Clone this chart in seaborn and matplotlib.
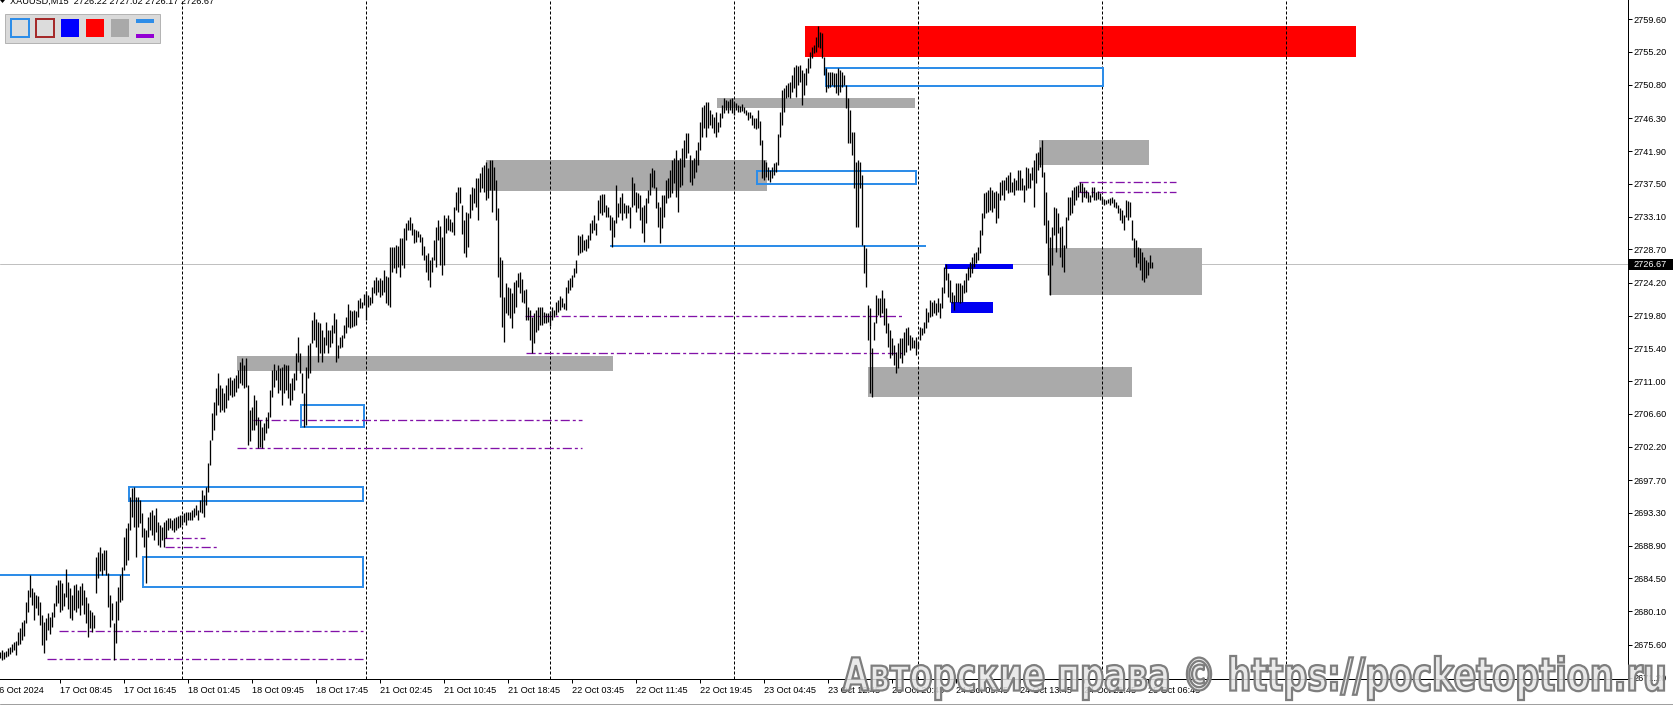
import numpy as np
import matplotlib
matplotlib.use("Agg")
import matplotlib.pyplot as plt
import seaborn as sns
from matplotlib.patches import Rectangle, PathPatch, Polygon
from matplotlib.textpath import TextPath
from matplotlib.font_manager import FontProperties
from matplotlib.transforms import Affine2D

sns.set_theme(style="white")
plt.rcParams["font.family"] = ["Liberation Sans", "DejaVu Sans"]

# ---------------------------------------------------------------- data
symbol = "XAUUSD,M15"
last_ohlc = [2726.22, 2727.02, 2726.17, 2726.67]
last_price = 2726.67

# M15 bars, bar index 0 = 17 Oct 01:00 (23 trading hours = 92 bars per day)
bar_start = 1
bar_high = [
    2674.6, 2674.9, 2674.6, 2674.8, 2675.2, 2675.3, 2675.7, 2676.0, 2676.1, 2677.3,
    2677.9, 2678.7, 2678.9, 2681.3, 2683.0, 2685.0, 2683.2, 2682.7, 2682.3, 2682.1,
    2681.3, 2679.6, 2678.7, 2679.2, 2679.9, 2679.3, 2680.0, 2681.2, 2683.6, 2684.3,
    2684.3, 2683.9, 2682.6, 2685.8, 2684.0, 2683.2, 2682.3, 2683.6, 2683.8, 2683.0,
    2683.5, 2683.9, 2683.0, 2682.0, 2681.2, 2680.3, 2680.0, 2679.6, 2687.4, 2688.1,
    2688.7, 2687.9, 2688.3, 2688.3, 2685.2, 2682.3, 2681.2, 2678.5, 2681.5, 2683.4,
    2685.0, 2686.0, 2690.1, 2691.3, 2692.0, 2695.4, 2696.7, 2696.8, 2695.4, 2695.4,
    2695.0, 2693.3, 2691.3, 2691.0, 2692.8, 2693.4, 2693.7, 2693.0, 2694.0, 2692.1,
    2691.7, 2691.4, 2692.1, 2692.4, 2692.6, 2692.6, 2692.4, 2692.6, 2692.8, 2692.9,
    2693.0, 2693.0, 2693.3, 2693.4, 2693.4, 2693.4, 2693.7, 2694.0, 2694.4, 2693.7,
    2695.0, 2696.4, 2695.7, 2696.8, 2700.0, 2703.1, 2706.7, 2708.2, 2710.1, 2712.1,
    2710.5, 2710.1, 2709.4, 2710.5, 2711.4, 2711.6, 2711.2, 2711.4, 2711.8, 2712.5,
    2713.6, 2714.1, 2713.2, 2714.1, 2710.5, 2707.1, 2707.5, 2709.1, 2708.5, 2706.2,
    2705.8, 2704.8, 2705.4, 2706.2, 2706.9, 2709.8, 2712.5, 2713.3, 2712.5, 2713.2,
    2712.8, 2712.9, 2713.3, 2713.2, 2713.2, 2710.8, 2711.4, 2712.1, 2714.8, 2716.9,
    2714.8, 2712.1, 2709.4, 2712.9, 2715.9, 2716.1, 2719.2, 2720.3, 2719.3, 2718.9,
    2718.8, 2717.9, 2716.9, 2718.9, 2717.9, 2717.9, 2718.5, 2720.2, 2719.3, 2715.9,
    2716.9, 2717.2, 2718.5, 2719.6, 2721.4, 2720.6, 2720.4, 2720.6, 2720.4, 2721.9,
    2722.2, 2721.6, 2722.7, 2723.1, 2722.6, 2722.3, 2723.6, 2724.6, 2725.0, 2724.6,
    2724.8, 2724.6, 2725.9, 2725.1, 2725.0, 2729.0, 2729.0, 2729.0, 2729.3, 2729.1,
    2730.2, 2730.2, 2731.6, 2732.2, 2732.6, 2733.0, 2732.2, 2731.4, 2731.3, 2731.2,
    2730.8, 2730.4, 2729.1, 2727.9, 2728.2, 2727.3, 2727.7, 2729.9, 2731.7, 2732.6,
    2731.8, 2730.4, 2733.3, 2732.9, 2733.3, 2732.8, 2732.4, 2734.4, 2736.4, 2737.1,
    2737.1, 2734.6, 2732.6, 2733.7, 2733.6, 2736.1, 2737.1, 2736.9, 2738.3, 2738.3,
    2738.9, 2739.8, 2740.0, 2740.4, 2739.6, 2740.7, 2740.7, 2739.8, 2738.0, 2734.2,
    2727.7, 2727.3, 2722.3, 2724.2, 2723.6, 2723.5, 2722.8, 2724.3, 2724.6, 2725.5,
    2725.7, 2724.7, 2723.2, 2723.4, 2721.0, 2720.6, 2719.6, 2720.2, 2720.6, 2721.0,
    2721.0, 2721.0, 2720.3, 2720.2, 2720.2, 2720.4, 2721.0, 2720.6, 2721.6, 2721.9,
    2722.4, 2722.2, 2721.5, 2723.6, 2724.6, 2724.8, 2725.2, 2726.2, 2727.3, 2730.6,
    2730.5, 2730.8, 2729.9, 2730.1, 2730.6, 2732.2, 2732.6, 2733.3, 2732.2, 2735.3,
    2736.0, 2736.1, 2736.1, 2734.6, 2734.4, 2733.3, 2733.0, 2732.6, 2737.3, 2734.9,
    2735.7, 2736.3, 2734.9, 2734.6, 2734.6, 2734.4, 2738.4, 2737.6, 2736.4, 2736.3,
    2736.0, 2734.4, 2734.6, 2735.6, 2736.7, 2738.9, 2739.6, 2739.4, 2737.1, 2735.1,
    2734.4, 2736.0, 2736.0, 2738.0, 2738.3, 2739.4, 2740.7, 2741.0, 2742.0, 2740.7,
    2741.0, 2742.3, 2743.4, 2744.3, 2744.3, 2741.4, 2740.7, 2741.0, 2742.0, 2743.1,
    2745.8, 2747.8, 2748.1, 2748.5, 2748.5, 2747.4, 2746.9, 2746.5, 2747.1, 2745.8,
    2747.0, 2748.1, 2749.0, 2748.8, 2748.6, 2748.9, 2749.0, 2748.5, 2748.3, 2748.1,
    2747.9, 2748.2, 2747.8, 2747.4, 2747.1, 2747.1, 2746.7, 2746.3, 2746.3, 2747.4,
    2745.9, 2743.4, 2740.7, 2740.4, 2739.8, 2739.4, 2739.8, 2740.3, 2740.4, 2744.2,
    2747.1, 2750.1, 2750.4, 2750.8, 2751.0, 2751.2, 2752.1, 2753.2, 2753.5, 2753.3,
    2753.5, 2752.8, 2752.4, 2753.0, 2754.4, 2755.2, 2755.9, 2756.1, 2757.2, 2758.7,
    2757.9, 2757.7, 2754.5, 2753.0, 2752.5, 2752.5, 2752.5, 2752.4, 2752.4, 2753.0,
    2752.8, 2752.5, 2752.1, 2750.8, 2749.0, 2747.4, 2744.5, 2744.5, 2740.4, 2740.7,
    2740.4, 2738.7, 2729.3, 2728.9, 2721.2, 2720.8, 2715.5, 2718.9, 2722.6, 2722.2,
    2722.2, 2723.2, 2722.2, 2720.8, 2718.8, 2717.9, 2716.8, 2715.9, 2714.9, 2716.1,
    2716.8, 2716.8, 2717.6, 2718.1, 2718.3, 2717.2, 2716.9, 2716.5, 2716.9, 2716.3,
    2718.3, 2718.1, 2718.9, 2720.8, 2720.3, 2721.9, 2721.6, 2721.9, 2721.5, 2722.2,
    2721.5, 2723.6, 2726.3, 2726.7, 2725.5, 2724.6, 2723.0, 2722.6, 2724.2, 2724.2,
    2724.2, 2723.9, 2724.6, 2725.5, 2726.3, 2727.0, 2727.7, 2728.2, 2728.3, 2729.0,
    2731.3, 2733.6, 2736.3, 2736.4, 2736.7, 2737.1, 2736.7, 2736.4, 2736.5, 2736.3,
    2737.7, 2738.0, 2738.0, 2738.4, 2738.7, 2739.1, 2737.7, 2738.3, 2738.0, 2739.4,
    2739.4, 2738.3, 2737.3, 2739.8, 2739.6, 2738.9, 2739.8, 2740.7, 2741.6, 2741.8,
    2742.4, 2743.4, 2739.1, 2736.4, 2732.6, 2730.4, 2731.7, 2734.4, 2734.2, 2733.6,
    2731.7, 2731.8, 2729.3, 2733.0, 2735.7, 2735.7, 2736.7, 2737.1, 2737.2, 2737.3,
    2737.7, 2737.6, 2737.1, 2736.7, 2736.4, 2736.0, 2737.1, 2737.1, 2736.4, 2736.5,
    2736.3, 2735.7, 2735.5, 2735.3, 2735.5, 2735.6, 2735.7, 2735.5, 2735.1, 2734.6,
    2734.2, 2734.0, 2733.3, 2735.3, 2735.2, 2735.1, 2732.6, 2730.2, 2729.9, 2729.0,
    2728.9, 2728.3, 2727.7, 2727.3, 2727.0, 2727.9, 2727.02,
]
bar_low = [
    2673.8, 2673.5, 2673.7, 2674.0, 2674.1, 2674.4, 2674.6, 2674.9, 2674.2, 2675.6,
    2675.7, 2676.2, 2676.8, 2678.5, 2680.0, 2682.0, 2680.9, 2678.9, 2680.5, 2679.6,
    2678.3, 2675.6, 2674.5, 2676.2, 2677.6, 2677.0, 2678.0, 2679.3, 2680.8, 2681.2,
    2680.0, 2680.3, 2680.8, 2682.0, 2680.4, 2679.2, 2678.9, 2680.3, 2680.0, 2680.5,
    2679.6, 2680.9, 2679.7, 2678.5, 2676.6, 2677.9, 2677.3, 2677.9, 2682.6, 2684.6,
    2685.5, 2685.0, 2685.6, 2685.0, 2680.7, 2678.0, 2678.9, 2673.5, 2675.8, 2678.9,
    2681.3, 2681.6, 2685.6, 2686.3, 2687.0, 2691.0, 2692.8, 2691.4, 2687.4, 2691.4,
    2692.0, 2690.1, 2688.7, 2683.9, 2690.1, 2691.0, 2690.3, 2689.7, 2690.7, 2689.0,
    2688.7, 2689.7, 2688.7, 2689.9, 2691.0, 2691.3, 2691.0, 2690.7, 2691.0, 2691.3,
    2691.4, 2691.7, 2692.1, 2691.7, 2692.4, 2692.4, 2692.4, 2692.8, 2693.0, 2692.4,
    2693.4, 2693.3, 2692.8, 2694.4, 2696.1, 2699.7, 2703.1, 2704.4, 2706.5, 2707.8,
    2706.9, 2707.1, 2706.9, 2707.4, 2708.5, 2709.1, 2708.9, 2709.0, 2709.5, 2710.1,
    2710.8, 2710.5, 2710.1, 2710.2, 2702.4, 2703.0, 2704.4, 2704.4, 2705.1, 2702.0,
    2702.2, 2702.0, 2703.1, 2704.0, 2704.7, 2706.2, 2708.9, 2710.2, 2711.2, 2709.4,
    2709.8, 2707.8, 2709.4, 2709.8, 2708.7, 2707.8, 2708.5, 2709.8, 2711.2, 2713.6,
    2712.1, 2709.4, 2704.8, 2705.1, 2711.4, 2712.1, 2716.1, 2716.5, 2715.6, 2713.6,
    2714.8, 2713.6, 2714.8, 2715.9, 2714.8, 2715.6, 2716.1, 2717.5, 2713.6, 2714.1,
    2715.5, 2715.6, 2716.8, 2717.5, 2718.3, 2718.1, 2718.3, 2718.4, 2718.5, 2719.6,
    2720.8, 2720.8, 2721.2, 2719.2, 2721.0, 2721.2, 2721.5, 2722.8, 2722.6, 2723.0,
    2722.3, 2722.6, 2723.0, 2721.5, 2721.2, 2721.0, 2725.7, 2726.2, 2725.5, 2726.3,
    2725.0, 2726.6, 2726.2, 2729.9, 2731.3, 2731.3, 2730.6, 2729.5, 2729.7, 2730.4,
    2729.7, 2727.9, 2727.3, 2725.7, 2724.6, 2723.6, 2725.7, 2727.3, 2726.3, 2729.9,
    2726.6, 2725.2, 2726.6, 2730.9, 2731.3, 2731.2, 2731.0, 2730.6, 2734.0, 2733.7,
    2734.9, 2730.8, 2728.2, 2727.7, 2729.0, 2732.9, 2734.0, 2734.9, 2734.4, 2732.6,
    2736.4, 2736.9, 2736.4, 2735.3, 2735.6, 2736.7, 2733.7, 2736.7, 2732.6, 2725.0,
    2722.3, 2718.3, 2716.3, 2720.2, 2719.9, 2719.5, 2718.1, 2720.2, 2721.0, 2723.6,
    2722.8, 2721.6, 2721.5, 2719.2, 2719.2, 2716.5, 2714.8, 2716.1, 2717.6, 2717.9,
    2718.5, 2718.5, 2718.8, 2718.8, 2718.9, 2718.4, 2719.2, 2719.6, 2719.9, 2720.3,
    2720.6, 2721.0, 2720.7, 2720.6, 2722.8, 2723.2, 2723.6, 2725.0, 2725.5, 2727.9,
    2728.2, 2728.3, 2728.6, 2728.5, 2728.9, 2729.9, 2730.9, 2731.3, 2730.6, 2732.6,
    2733.6, 2733.3, 2733.7, 2733.0, 2733.0, 2731.3, 2729.0, 2730.4, 2732.2, 2733.0,
    2733.6, 2732.6, 2733.6, 2732.9, 2733.6, 2731.6, 2734.4, 2734.6, 2733.7, 2734.2,
    2732.6, 2730.9, 2729.7, 2732.2, 2734.9, 2736.0, 2737.1, 2736.9, 2734.2, 2731.7,
    2729.5, 2731.6, 2733.0, 2734.9, 2735.6, 2735.7, 2736.3, 2737.6, 2735.7, 2733.7,
    2737.1, 2737.3, 2739.8, 2741.0, 2741.6, 2737.7, 2737.3, 2738.3, 2739.1, 2740.0,
    2742.0, 2743.8, 2745.0, 2743.8, 2745.0, 2745.4, 2745.0, 2744.3, 2743.8, 2744.5,
    2745.1, 2746.3, 2747.0, 2747.4, 2747.0, 2747.4, 2747.0, 2746.7, 2747.4, 2747.1,
    2747.1, 2747.3, 2747.0, 2746.7, 2746.1, 2746.3, 2745.4, 2745.0, 2744.9, 2745.0,
    2742.7, 2738.3, 2738.0, 2738.4, 2738.0, 2737.7, 2738.3, 2738.7, 2739.1, 2740.0,
    2743.8, 2745.4, 2747.1, 2749.0, 2749.2, 2749.0, 2749.8, 2750.4, 2749.2, 2750.8,
    2751.2, 2748.1, 2749.4, 2750.8, 2752.4, 2753.0, 2754.4, 2755.1, 2755.2, 2755.9,
    2755.7, 2754.4, 2752.1, 2749.8, 2750.4, 2750.5, 2750.8, 2750.5, 2749.7, 2749.4,
    2749.8, 2750.5, 2750.8, 2747.7, 2743.0, 2743.0, 2741.4, 2736.9, 2731.7, 2731.7,
    2736.9, 2729.3, 2725.5, 2723.6, 2716.5, 2709.4, 2708.9, 2716.5, 2718.8, 2719.9,
    2719.6, 2720.2, 2718.5, 2717.5, 2715.6, 2714.1, 2714.5, 2713.2, 2712.1, 2712.8,
    2714.1, 2713.4, 2714.5, 2714.9, 2715.9, 2715.2, 2715.5, 2715.5, 2714.5, 2715.5,
    2716.5, 2717.2, 2717.5, 2718.1, 2718.9, 2719.6, 2719.7, 2720.2, 2719.9, 2720.3,
    2719.5, 2720.8, 2722.8, 2724.6, 2722.3, 2721.6, 2721.5, 2720.6, 2721.6, 2721.6,
    2721.5, 2721.6, 2722.8, 2723.0, 2724.6, 2725.0, 2725.5, 2726.3, 2726.9, 2727.3,
    2728.2, 2730.6, 2732.9, 2733.6, 2733.7, 2734.0, 2733.7, 2734.2, 2732.2, 2732.9,
    2735.3, 2736.0, 2735.3, 2736.7, 2736.3, 2736.4, 2736.4, 2736.0, 2736.7, 2736.7,
    2736.7, 2736.7, 2735.1, 2736.7, 2736.9, 2736.9, 2738.0, 2734.4, 2737.6, 2739.4,
    2739.8, 2738.4, 2732.0, 2729.5, 2725.2, 2722.6, 2726.6, 2730.6, 2728.3, 2730.9,
    2727.7, 2726.3, 2725.7, 2728.9, 2732.6, 2733.3, 2733.6, 2734.6, 2735.3, 2735.7,
    2736.4, 2735.1, 2735.7, 2735.6, 2735.1, 2735.1, 2735.7, 2735.3, 2735.3, 2735.5,
    2735.3, 2734.8, 2734.6, 2734.8, 2734.9, 2734.6, 2734.9, 2734.4, 2734.2, 2733.6,
    2732.6, 2732.2, 2731.3, 2733.0, 2732.6, 2733.0, 2729.9, 2727.7, 2726.3, 2726.9,
    2725.9, 2724.6, 2724.3, 2724.9, 2725.2, 2726.2, 2726.17,
]
assert len(bar_high) == len(bar_low)

# first bar index of each trading day (period separators)
day_start_bars = [92, 184, 276, 368, 460, 552, 644]

time_label_bars = [31, 63, 95, 127, 159, 191, 223, 255, 287, 319, 351, 383,
                   415, 447, 479, 511, 543, 575]
time_labels = ["17 Oct 08:45", "17 Oct 16:45", "18 Oct 01:45", "18 Oct 09:45",
               "18 Oct 17:45", "21 Oct 02:45", "21 Oct 10:45", "21 Oct 18:45",
               "22 Oct 03:45", "22 Oct 11:45", "22 Oct 19:45", "23 Oct 04:45",
               "23 Oct 12:45", "23 Oct 20:45", "24 Oct 05:45", "24 Oct 13:45",
               "24 Oct 21:45", "25 Oct 06:45"]
first_date_label = "16 Oct 2024"

price_ticks = [2759.60, 2755.20, 2750.80, 2746.30, 2741.90, 2737.50, 2733.10,
               2728.70, 2724.20, 2719.80, 2715.40, 2711.00, 2706.60, 2702.20,
               2697.70, 2693.30, 2688.90, 2684.50, 2680.10, 2675.60, 2671.20]

# zones: (first bar, last bar, lower price, upper price)
red_zones = [(403.8, 679.3, 2754.56, 2758.69)]
gray_zones = [(244.3, 384.6, 2736.53, 2740.69),
              (359.8, 458.8, 2747.72, 2749.06),
              (520.8, 575.8, 2740.06, 2743.38),
              (525.8, 602.3, 2722.63, 2728.94),
              (435.3, 567.3, 2708.87, 2712.90),
              (119.8, 307.6, 2712.32, 2714.31)]
blue_boxes = [(414.3, 552.8, 2750.63, 2753.09),
              (379.6, 459.2, 2737.47, 2739.26),
              (151.5, 183.0, 2704.80, 2707.80),
              (65.8, 182.8, 2694.95, 2696.83),
              (72.6, 182.8, 2683.40, 2687.39)]
blue_blocks = [(473.8, 507.6, 2726.06, 2726.73),
               (476.8, 497.6, 2720.15, 2721.63)]
# levels: (first bar, last bar, price)
blue_levels = [(306.0, 464.1, 2729.08), (-5.0, 66.3, 2684.97)]
purple_levels = [(540.8, 589.3, 2737.78), (540.8, 589.3, 2736.36),
                 (263.8, 452.8, 2719.77), (264.3, 452.8, 2714.78),
                 (127.9, 292.0, 2705.80), (119.8, 292.0, 2701.98),
                 (83.3, 103.8, 2689.97), (83.8, 109.8, 2688.77),
                 (30.8, 182.8, 2677.49), (24.8, 182.8, 2673.69)]

watermark = "Авторские права © https://pocketoption.ru"

# ---------------------------------------------------------------- colours
C_BLUE_LINE = "#2E8DE8"
C_BLUE_FILL = "#0000F2"
C_RED = "#FF0000"
C_GRAY = "#AAAAAA"
C_PURPLE = "#8212A8"
PX = 0.72  # one pixel in points at 100 dpi

# ---------------------------------------------------------------- figure
W, H = 1673, 705
fig = plt.figure(figsize=(W / 100, H / 100), dpi=100)
fig.patch.set_facecolor("white")

plot_w, plot_h, bottom_px = 1628, 679, 26
ax = fig.add_axes([0, bottom_px / H, plot_w / W, plot_h / H])
ax.set_facecolor("white")
ax.set_xlim(1.25, 1.25 + plot_w / 2)
ax.set_ylim(2671.00, 2762.18)

# zone fills
for x0, x1, lo, hi in red_zones:
    ax.add_patch(Rectangle((x0, lo), x1 - x0, hi - lo, facecolor=C_RED,
                           edgecolor="none", zorder=1))
for x0, x1, lo, hi in gray_zones:
    ax.add_patch(Rectangle((x0, lo), x1 - x0, hi - lo, facecolor=C_GRAY,
                           edgecolor="none", zorder=1))
for x0, x1, lo, hi in blue_blocks:
    ax.add_patch(Rectangle((x0, lo), x1 - x0, hi - lo, facecolor=C_BLUE_FILL,
                           edgecolor="none", zorder=1.2))

# current price line
ax.axhline(last_price, color="#C0C0C0", lw=PX, zorder=0.5)

# period separators
for d in day_start_bars:
    ax.axvline(d, color="black", lw=PX, linestyle=(0, (3, 2)), zorder=2)

# outlined boxes and levels
for x0, x1, lo, hi in blue_boxes:
    ax.add_patch(Rectangle((x0, lo), x1 - x0, hi - lo, fill=False,
                           edgecolor=C_BLUE_LINE, lw=2 * PX, zorder=3))
for x0, x1, y in blue_levels:
    ax.plot([x0, x1], [y, y], color=C_BLUE_LINE, lw=2 * PX,
            solid_capstyle="butt", zorder=3)
for x0, x1, y in purple_levels:
    ax.plot([x0, x1], [y, y], color=C_PURPLE, lw=1.3 * PX,
            linestyle=(0, (7, 2.3, 2.3, 2.3)), zorder=3)

# price bars (high-low)
bars_x = np.arange(bar_start, bar_start + len(bar_high))
ax.vlines(bars_x, bar_low, bar_high, colors="black", lw=1.3 * PX, zorder=5)

# axes frame
for side in ("top", "left"):
    ax.spines[side].set_visible(False)
for side in ("right", "bottom"):
    ax.spines[side].set_color("black")
    ax.spines[side].set_linewidth(PX)
ax.grid(False)

ax.yaxis.tick_right()
ax.set_yticks(price_ticks)
ax.set_yticklabels([f"{v:.2f}" for v in price_ticks])
ax.tick_params(axis="y", which="major", direction="out", length=2.6,
               width=PX, pad=1.2, labelsize=6.6, colors="black", right=True,
               left=False)

ax.set_xticks(time_label_bars)
ax.set_xticklabels([])
ax.tick_params(axis="x", which="major", direction="out", length=2.6,
               width=PX, colors="black", bottom=True)
for b, lbl in zip(time_label_bars, time_labels):
    ax.annotate(lbl, xy=(b, 0), xycoords=("data", "axes fraction"),
                xytext=(1.0, -11.5), textcoords="offset pixels", ha="left",
                va="center", fontsize=6.6, color="black",
                annotation_clip=False)
ax.annotate(first_date_label, xy=(1.25, 0), xycoords=("data", "axes fraction"),
            xytext=(-6, -11.5), textcoords="offset pixels", ha="left",
            va="center", fontsize=6.6, color="black", annotation_clip=False)

# ---------------------------------------------------------------- overlay (pixel space)
ov = fig.add_axes([0, 0, 1, 1], zorder=10)
ov.set_xlim(0, W)
ov.set_ylim(H, 0)
ov.axis("off")
ov.patch.set_alpha(0)

# current price tag on the price scale
ov.add_patch(Rectangle((1629, 259), 44, 11, facecolor="black",
                       edgecolor="none"))
ov.text(1633, 264.5, f"{last_price:.2f}", color="white", fontsize=6.6,
        ha="left", va="center")

# window bottom edge
ov.plot([0, W], [703.5, 703.5], color="#A0A0A0", lw=PX)

# symbol header
ov.add_patch(Polygon([[0, 0], [5, 0], [2.5, 3]], closed=True,
                     facecolor="black", edgecolor="none"))
ov.text(10, 4, f"{symbol}  " + " ".join(f"{v:.2f}" for v in last_ohlc),
        fontsize=6.6, color="black", ha="left", va="baseline")

# drawing toolbar
ov.add_patch(Rectangle((5.5, 13.5), 154.5, 29, facecolor="#DADADA",
                       edgecolor="#B4B4B4", lw=PX))
ov.add_patch(Rectangle((11, 19), 18, 18, facecolor="#DCDCDC",
                       edgecolor=C_BLUE_LINE, lw=2 * PX))
ov.add_patch(Rectangle((36, 19), 18, 18, facecolor="#DCDCDC",
                       edgecolor="#A52A2A", lw=2 * PX))
ov.add_patch(Rectangle((61, 19), 18, 18, facecolor="#0000FF",
                       edgecolor="none"))
ov.add_patch(Rectangle((86, 19), 18, 18, facecolor="#FF0000",
                       edgecolor="none"))
ov.add_patch(Rectangle((111, 19), 18, 18, facecolor="#A9A9A9",
                       edgecolor="none"))
ov.add_patch(Rectangle((136, 19), 18, 4, facecolor=C_BLUE_LINE,
                       edgecolor="none"))
ov.add_patch(Rectangle((136, 34), 18, 3.5, facecolor="#9400D3",
                       edgecolor="none"))

# watermark
tp = TextPath((0, 0), watermark, size=1,
              prop=FontProperties(family="DejaVu Sans", weight="bold"))
bb = tp.get_extents()
wx0, wx1, wy_top, wy_bot = 843, 1664, 656, 700
T = (Affine2D().translate(-bb.x0, -bb.y0)
     .scale((wx1 - wx0) / bb.width, -(wy_bot - wy_top) / bb.height)
     .translate(wx0, wy_bot))
ov.add_patch(PathPatch(T.transform_path(tp), facecolor=(0.90, 0.90, 0.90, 0.85),
                       edgecolor="#7E7E7E", lw=1.6, zorder=20))

fig.savefig("out.png", dpi=100, facecolor="white")
